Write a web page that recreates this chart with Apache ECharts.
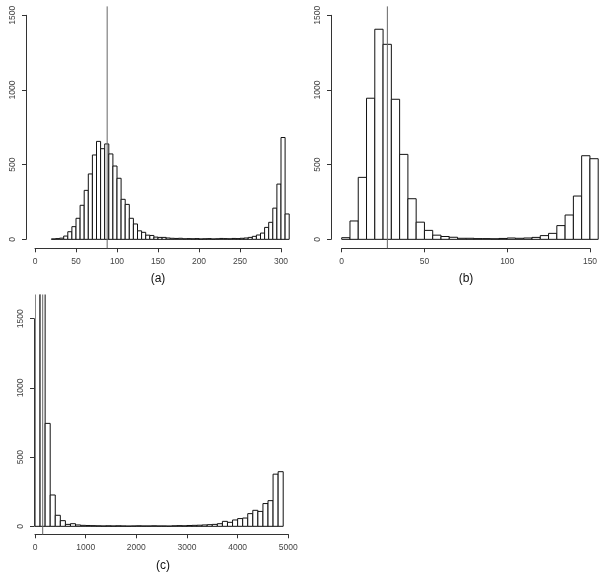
<!DOCTYPE html>
<html><head><meta charset="utf-8">
<script src="https://cdn.jsdelivr.net/npm/echarts@6/dist/echarts.min.js"></script>
<style>html,body{margin:0;padding:0;background:#fff}#c{width:601px;height:575px}</style>
</head><body><div id="c"></div>
<script>
// ---- data ----
const aStart = 20, aWidth = 5;
const aCounts = [3,5,8,22,51,85,141,228,328,438,565,656,607,639,572,491,409,268,234,141,
  103,57,47,28,26,15,13,13,9,7,6,7,4,5,4,5,3,4,5,3,
  4,6,5,4,6,5,7,9,13,20,29,42,80,114,209,370,682,170];
const aLine = 88;
const aXTicks = [0,50,100,150,200,250,300];

const bStart = 0, bWidth = 5;
const bCounts = [11,123,415,945,1407,1306,938,569,272,115,60,28,19,14,7,7,5,5,4,6,
  9,7,9,13,25,40,92,163,290,560,540];
const bLine = 27.6;
const bXTicks = [0,50,100,150];

const cStart = 0, cWidth = 100;
const cCounts = [2500,2100,746,227,80,41,14,19,10,7,6,5,4,3,4,3,4,3,2,3,
  4,3,3,4,3,3,2,4,5,4,6,7,8,10,12,14,19,36,29,46,
  56,60,92,116,108,165,186,378,396];
const cLine = 152;
const cXTicks = [0,1000,2000,3000,4000,5000];

const yTicks = [0,500,1000,1500];
const titles = ['(a)','(b)','(c)'];

// ---- build ----
function bins(start, width, counts){
  return counts.map((c,i)=>[start+i*width, start+(i+1)*width, c]);
}
const FONT = 'Liberation Sans, Arial, Helvetica, sans-serif';
const plain = v => String(v);
const grids = [], xAxes = [], yAxes = [], series = [];

function panel(p){
  const gi = grids.length;
  grids.push({left:p.dLeft, top:p.dTop, width:p.dWidth, height:p.dHeight, outerBoundsMode:'none', containLabel:false});
  xAxes.push({gridIndex:gi, type:'value', min:p.xMin, max:p.xMax, show:false});
  yAxes.push({gridIndex:gi, type:'value', min:p.yMin, max:p.yMax, show:false});
  const ai = xAxes.length-1;
  series.push({
    type:'custom', xAxisIndex:ai, yAxisIndex:ai, clip:true, silent:true,
    data: bins(p.start, p.width, p.counts),
    encode:{x:[0,1], y:2},
    renderItem:function(params, api){
      const p0 = api.coord([api.value(0), api.value(2)]);
      const p1 = api.coord([api.value(1), 0]);
      return {type:'rect', shape:{x:p0[0], y:p0[1], width:p1[0]-p0[0], height:p1[1]-p0[1]},
        style:{fill:'#fff', stroke:'#111', lineWidth:1}};
    }
  });
  series.push({
    type:'line', xAxisIndex:ai, yAxisIndex:ai, silent:true, symbol:'none', z:5,
    data:[[p.line, p.yMin],[p.line, p.yMax]],
    lineStyle:{color:'#666', width:1}
  });
  const gy = grids.length;
  grids.push({left:p.yaLeft, top:p.yaTop, width:10, height:p.yaHeight, outerBoundsMode:'none', containLabel:false});
  xAxes.push({gridIndex:gy, type:'value', show:false, min:0, max:1});
  yAxes.push({gridIndex:gy, type:'value', min:yTicks[0], max:yTicks[yTicks.length-1], interval:yTicks[1]-yTicks[0],
    position:'left',
    axisLine:{show:true, lineStyle:{color:'#333', width:1}},
    axisTick:{show:true, inside:false, length:4, lineStyle:{color:'#333'}},
    axisLabel:{show:true, rotate:90, margin:9, fontSize:8.5, color:'#444', fontFamily:FONT, formatter:plain},
    splitLine:{show:false}
  });
  const gx = grids.length;
  grids.push({left:p.xaLeft, top:p.xaBottom-20, width:p.xaWidth, height:20, outerBoundsMode:'none', containLabel:false});
  xAxes.push({gridIndex:gx, type:'value', min:p.xTicks[0], max:p.xTicks[p.xTicks.length-1], interval:p.xTicks[1]-p.xTicks[0],
    position:'bottom',
    axisLine:{show:true, lineStyle:{color:'#333', width:1}},
    axisTick:{show:true, inside:false, length:4, lineStyle:{color:'#333'}},
    axisLabel:{show:true, margin:9, fontSize:8.5, color:'#444', fontFamily:FONT, formatter:plain},
    splitLine:{show:false}
  });
  yAxes.push({gridIndex:gx, type:'value', show:false, min:0, max:1});
}

panel({start:aStart, width:aWidth, counts:aCounts, line:aLine, xTicks:aXTicks,
  dLeft:35, dWidth:254.2, xMin:0, xMax:310, dTop:6.4, dHeight:241.9, yMin:-60, yMax:1560,
  yaLeft:26, yaTop:15.3, yaHeight:224, xaLeft:35, xaWidth:246, xaBottom:248.3});
panel({start:bStart, width:bWidth, counts:bCounts, line:bLine, xTicks:bXTicks,
  dLeft:341.7, dWidth:256.5, xMin:0, xMax:155, dTop:6.4, dHeight:241.9, yMin:-60, yMax:1560,
  yaLeft:331, yaTop:15.3, yaHeight:224, xaLeft:341.7, xaWidth:248.3, xaBottom:248.3});
panel({start:cStart, width:cWidth, counts:cCounts, line:cLine, xTicks:cXTicks,
  dLeft:35, dWidth:248.2, xMin:0, xMax:4900, dTop:294.5, dHeight:240.1, yMin:-60, yMax:1680,
  yaLeft:34, yaTop:318.7, yaHeight:207.6, xaLeft:35, xaWidth:253.3, xaBottom:534.3});

const titlePos = [[158,279],[466,279],[163,566]];
const chart = echarts.init(document.getElementById('c'), null, {renderer:'canvas'});
chart.setOption({
  animation:false,
  backgroundColor:'#fff',
  grid:grids, xAxis:xAxes, yAxis:yAxes, series:series,
  graphic: titles.map((t,i)=>({type:'text', x:titlePos[i][0], y:titlePos[i][1], silent:true,
    style:{text:t, textAlign:'center', textVerticalAlign:'middle', align:'center', verticalAlign:'middle',
      font:'12px ' + FONT, fill:'#111'}}))
});
</script></body></html>
